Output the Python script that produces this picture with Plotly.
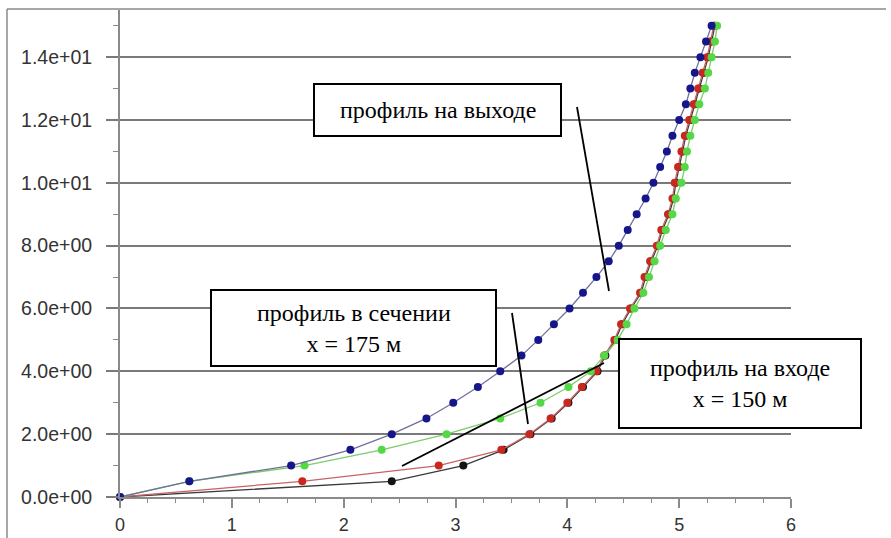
import plotly.graph_objects as go

# ---- data ----
y_levels = [0, 0.5, 1.0, 1.5, 2.0, 2.5, 3.0, 3.5, 4.0, 4.5, 5.0, 5.5, 6.0, 6.5, 7.0, 7.5,
            8.0, 8.5, 9.0, 9.5, 10.0, 10.5, 11.0, 11.5, 12.0, 12.5, 13.0, 13.5, 14.0, 14.5, 15.0]

x_outlet = [0, 0.62, 1.53, 2.06, 2.43, 2.74, 2.98, 3.20, 3.40, 3.59, 3.74, 3.88, 4.02, 4.14, 4.26, 4.37,
            4.46, 4.54, 4.62, 4.70, 4.77, 4.83, 4.89, 4.94, 5.00, 5.06, 5.10, 5.14, 5.19, 5.24, 5.29]

x_inlet = [0, 1.63, 2.85, 3.41, 3.66, 3.85, 4.00, 4.13, 4.26, 4.33, 4.42, 4.48, 4.56, 4.65, 4.69, 4.74,
           4.80, 4.84, 4.90, 4.94, 4.96, 4.99, 5.02, 5.05, 5.09, 5.13, 5.17, 5.21, 5.25, 5.28, 5.31]

x_section = [0, 0.62, 1.65, 2.34, 2.92, 3.40, 3.76, 4.01, 4.21, 4.33, 4.45, 4.53, 4.60, 4.68, 4.73, 4.78,
             4.83, 4.88, 4.94, 4.97, 5.02, 5.05, 5.07, 5.10, 5.14, 5.18, 5.23, 5.26, 5.29, 5.32, 5.34]

x_black = [0, 2.43, 3.07, 3.43, 3.67, 3.86, 4.01, 4.14, 4.27, 4.34, 4.43, 4.49, 4.57, 4.66, 4.70, 4.75,
           4.81, 4.85, 4.91, 4.95, 4.97, 5.00, 5.03, 5.06, 5.10, 5.14, 5.18, 5.22, 5.26, 5.29, 5.32]

y_tick_vals = [0, 2, 4, 6, 8, 10, 12, 14]
y_tick_text = ["0.0e+00", "2.0e+00", "4.0e+00", "6.0e+00", "8.0e+00", "1.0e+01", "1.2e+01", "1.4e+01"]
x_tick_vals = [0, 1, 2, 3, 4, 5, 6]

label_outlet = "профиль на выходе"
label_section = "профиль в сечении<br>x = 175 м"
label_inlet = "профиль на входе<br>x = 150 м"

# ---- figure geometry ----
W, H = 891, 538
ML, MR, MT, MB = 120, 100, 10, 41
PW, PH = W - ML - MR, H - MT - MB


def px(xp):
    return (xp - ML) / PW


def py(yp):
    return (H - MB - yp) / PH


fig = go.Figure()

series = [
    (x_black, "#141414", "#3a3a3a"),
    (x_inlet, "#c8281e", "#c86464"),
    (x_section, "#55d845", "#7ccc6a"),
    (x_outlet, "#16168c", "#70709a"),
]
for xs, mc, lc in series:
    fig.add_trace(go.Scatter(
        x=xs, y=y_levels, mode="lines+markers",
        line=dict(color=lc, width=1.3),
        marker=dict(color=mc, size=8),
        showlegend=False, cliponaxis=False,
    ))

shapes = []
# outer frame (top and left edge)
shapes.append(dict(type="line", xref="paper", yref="paper",
                   x0=px(7), y0=py(9), x1=px(886), y1=py(9),
                   line=dict(color="#8a8a8a", width=1.5), layer="above"))
shapes.append(dict(type="line", xref="paper", yref="paper",
                   x0=px(7), y0=py(9), x1=px(7), y1=py(538),
                   line=dict(color="#8a8a8a", width=1.5), layer="above"))

# pointer lines
for (a, b, c, d) in [(577, 107, 609, 291), (512, 313, 528, 424), (402, 466, 604, 363)]:
    shapes.append(dict(type="line", xref="paper", yref="paper",
                       x0=px(a), y0=py(b), x1=px(c), y1=py(d),
                       line=dict(color="black", width=1.8), layer="above"))

# text boxes
boxes = [(314, 84, 561, 136), (211, 290, 496, 366), (619, 339, 861, 428)]
for (a, b, c, d) in boxes:
    shapes.append(dict(type="rect", xref="paper", yref="paper",
                       x0=px(a), y0=py(d), x1=px(c), y1=py(b),
                       line=dict(color="black", width=2), fillcolor="white", layer="above"))

annotations = []
for (a, b, c, d), txt in zip(boxes, [label_outlet, label_section, label_inlet]):
    annotations.append(dict(
        x=px((a + c) / 2), y=py((b + d) / 2), xref="paper", yref="paper",
        text=txt, showarrow=False, align="center",
        font=dict(family="'Times New Roman', 'Liberation Serif', serif", size=24, color="black"),
        xanchor="center", yanchor="middle",
    ))

fig.update_layout(
    template="none",
    width=W, height=H,
    margin=dict(l=ML, r=MR, t=MT, b=MB, pad=0, autoexpand=False),
    paper_bgcolor="white", plot_bgcolor="white",
    shapes=shapes, annotations=annotations,
    font=dict(family="Liberation Sans, Arial, sans-serif", size=19, color="#333333"),
)

fig.update_xaxes(
    automargin=False,
    range=[0, 6], tickvals=x_tick_vals, showgrid=False, zeroline=False,
    showline=True, linecolor="#8a8a8a", linewidth=2,
    ticks="outside", ticklen=9, tickwidth=1.5, tickcolor="#8a8a8a",
    minor=dict(dtick=0.25, ticks="outside", ticklen=4, tickcolor="#8a8a8a", tickwidth=1.2, showgrid=False),
    tickfont=dict(size=18, color="#333333"),
    ticklabelstandoff=1,
)
fig.update_yaxes(
    automargin=False,
    range=[0, 15.5], tickvals=y_tick_vals, ticktext=y_tick_text,
    showgrid=True, gridcolor="#7a7a7a", gridwidth=1.5, zeroline=False,
    showline=True, linecolor="#8a8a8a", linewidth=2,
    ticks="outside", ticklen=12, tickwidth=1.5, tickcolor="#7a7a7a",
    minor=dict(dtick=1, ticks="outside", ticklen=5, tickcolor="#8a8a8a", tickwidth=1.2, showgrid=False),
    tickfont=dict(size=19.5, color="#333333"),
    ticklabelstandoff=10,
)

fig.write_html("out.html")
